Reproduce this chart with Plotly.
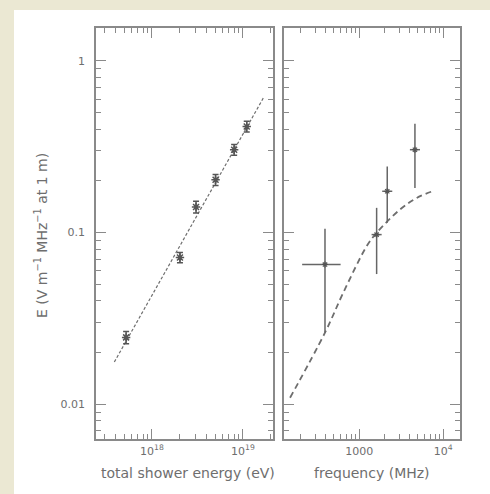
import plotly.graph_objects as go

W, H = 490, 494

# Left panel: field strength vs total shower energy
energy_ev = [5.2e17, 2.03e18, 3.05e18, 5.0e18, 8.0e18, 1.1e19]
field_energy = [0.0245, 0.0716, 0.141, 0.203, 0.304, 0.415]
field_energy_err = [0.002, 0.005, 0.011, 0.015, 0.022, 0.03]
fit_energy_ev = [3.86e17, 1.67e19]
fit_field = [0.0176, 0.607]

# Right panel: field strength vs frequency
freq_mhz = [391, 1611, 2155, 4606]
field_freq = [0.0652, 0.0973, 0.174, 0.304]
freq_err_minus = [182, 208, 278, 594]
freq_err_plus = [209, 238, 319, 682]
field_freq_err_plus = [0.040, 0.042, 0.069, 0.126]
field_freq_err_minus = [0.039, 0.040, 0.060, 0.122]
model_freq_mhz = [150, 391, 645, 1225, 1611, 3050, 4820, 7960]
model_field = [0.0109, 0.0261, 0.0446, 0.0832, 0.0996, 0.136, 0.159, 0.176]

y_ticks = [0.01, 0.1, 1]
y_ticktext = ["0.01", "0.1", "1"]
e_ticks = [1e18, 1e19]
e_ticktext = ["10<sup>18</sup>", "10<sup>19</sup>"]
f_ticks = [1000, 10000]
f_ticktext = ["1000", "10<sup>4</sup>"]

INK = "#6e6e6e"
FRAME = "#8a8a8a"
FONT = "DejaVu Sans"

fig = go.Figure()

fig.add_trace(go.Scatter(
    x=fit_energy_ev, y=fit_field, mode="lines",
    line=dict(color=INK, width=1.2, dash="3px,2px"),
    xaxis="x", yaxis="y", showlegend=False))
fig.add_trace(go.Scatter(
    x=energy_ev, y=field_energy, mode="markers",
    marker=dict(symbol="asterisk-open", size=7, color="#555",
                line=dict(color="#555", width=1.5)),
    error_y=dict(type="data", array=field_energy_err, color="#555",
                 thickness=1.5, width=3),
    xaxis="x", yaxis="y", showlegend=False))

fig.add_trace(go.Scatter(
    x=model_freq_mhz, y=model_field, mode="lines", line_shape="spline",
    line=dict(color=INK, width=1.8, dash="6px,4px"),
    xaxis="x2", yaxis="y2", showlegend=False))
fig.add_trace(go.Scatter(
    x=freq_mhz, y=field_freq, mode="markers",
    marker=dict(symbol="asterisk-open", size=5, color="#555",
                line=dict(color="#555", width=1.2)),
    error_x=dict(type="data", symmetric=False, array=freq_err_plus,
                 arrayminus=freq_err_minus, color="#666", thickness=1.5, width=0),
    error_y=dict(type="data", symmetric=False, array=field_freq_err_plus,
                 arrayminus=field_freq_err_minus, color="#666", thickness=1.5, width=0),
    xaxis="x2", yaxis="y2", showlegend=False))

ydom = [1 - 439 / H, 1 - 28 / H]
common_axis = dict(
    type="log", showline=True, mirror="allticks", linecolor=FRAME, linewidth=1.8,
    ticks="inside", ticklen=10, tickwidth=1.3, tickcolor=FRAME,
    showgrid=False, zeroline=False,
    tickfont=dict(family=FONT, size=11, color=INK),
    minor=dict(ticks="inside", ticklen=5, tickwidth=1.1, tickcolor=FRAME,
               dtick="D1", showgrid=False),
)

fig.update_layout(
    width=W, height=H,
    margin=dict(l=0, r=0, t=0, b=0),
    paper_bgcolor="white", plot_bgcolor="white",
    xaxis=dict(common_axis, domain=[96 / W, 273 / W], anchor="y",
               range=[17.385, 19.33], tickvals=e_ticks, ticktext=e_ticktext,
               ticklabelstandoff=1),
    yaxis=dict(common_axis, domain=ydom, anchor="x",
               range=[-2.203, 0.192], tickvals=y_ticks, ticktext=y_ticktext,
               ticklabelstandoff=7),
    xaxis2=dict(common_axis, domain=[284 / W, 460 / W], anchor="y2",
                range=[2.104, 4.2], tickvals=f_ticks, ticktext=f_ticktext,
                ticklabelstandoff=1),
    yaxis2=dict(common_axis, domain=ydom, anchor="x2",
                range=[-2.203, 0.192], tickvals=y_ticks, showticklabels=False),
    shapes=[
        dict(type="rect", xref="paper", yref="paper", x0=0, x1=14 / W, y0=0, y1=1,
             fillcolor="#ebe8d3", line_width=0, layer="below"),
        dict(type="rect", xref="paper", yref="paper", x0=0, x1=1, y0=1 - 10 / H, y1=1,
             fillcolor="#ebe8d3", line_width=0, layer="below"),
    ],
    annotations=[
        dict(text="E (V m<sup>−1</sup> MHz<sup>−1</sup> at 1 m)", textangle=-90,
             xref="paper", yref="paper", x=41 / W, y=1 - 236 / H,
             xanchor="center", yanchor="middle",
             showarrow=False, font=dict(family=FONT, size=14, color=INK)),
        dict(text="total shower energy (eV)", xref="paper", yref="paper",
             x=188 / W, y=1 - 473 / H, xanchor="center", yanchor="middle",
             showarrow=False, font=dict(family=FONT, size=14, color=INK)),
        dict(text="frequency (MHz)", xref="paper", yref="paper",
             x=372 / W, y=1 - 473 / H, xanchor="center", yanchor="middle",
             showarrow=False, font=dict(family=FONT, size=14, color=INK)),
    ],
)

fig.write_html("out.html")
